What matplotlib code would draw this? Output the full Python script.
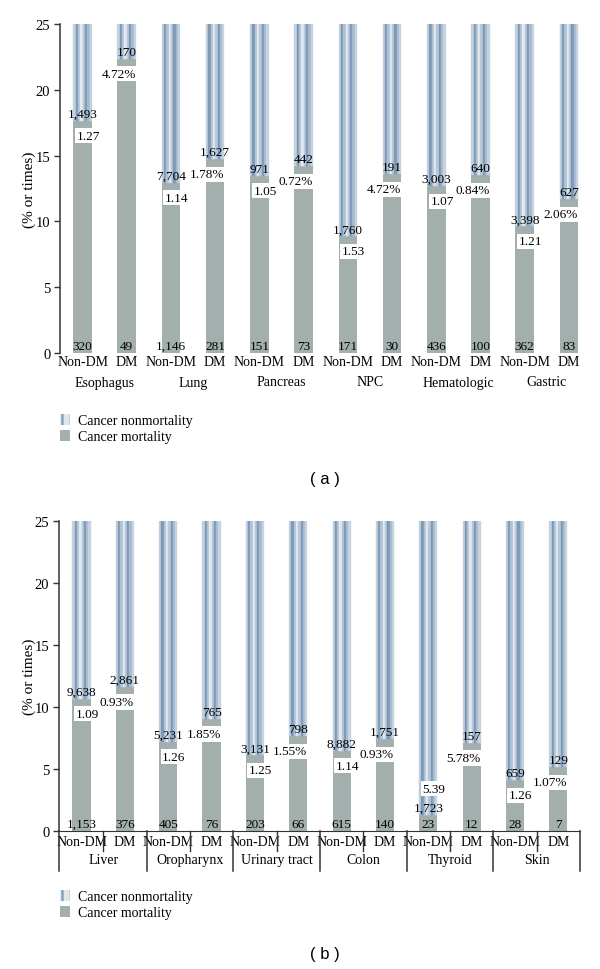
import matplotlib

matplotlib.use("Agg")
import matplotlib.pyplot as plt
import matplotlib.transforms as mtransforms
import numpy as np
from matplotlib.patches import Patch

plt.rcParams["font.family"] = ["Liberation Serif", "DejaVu Serif"]
plt.rcParams["hatch.color"] = "#7f9bb7"
plt.rcParams["hatch.linewidth"] = 1.6

# ---- data (a) ----
groups_a = ["Esophagus", "Lung", "Pancreas", "NPC", "Hematologic", "Gastric"]
nonmort_a = [1493, 170, 7704, 1627, 971, 442, 1760, 191, 3003, 640, 3398, 627]
mort_a = [320, 49, 1146, 281, 151, 73, 171, 30, 436, 100, 362, 83]
ratio_a = ["1.27", "1.14", "1.05", "1.53", "1.07", "1.21"]
pct_a = ["4.72%", "1.78%", "0.72%", "4.72%", "0.84%", "2.06%"]

# ---- data (b) ----
groups_b = ["Liver", "Oropharynx", "Urinary tract", "Colon", "Thyroid", "Skin"]
nonmort_b = [9638, 2861, 5231, 765, 3131, 798, 8882, 1751, 1723, 157, 659, 129]
mort_b = [1153, 376, 405, 76, 203, 66, 615, 140, 23, 12, 28, 7]
ratio_b = ["1.09", "1.26", "1.25", "1.14", "5.39", "1.26"]
pct_b = ["0.93%", "1.85%", "1.55%", "0.93%", "5.78%", "1.07%"]

bar_labels = ["Non-DM", "DM"] * 6

GRAY = "#a2afad"
STRIPES = ["#c3d1df", "#7d99b5", "#afc2d4", "#e2e9f1", "#b9c9da", "#7d99b5", "#a6bacf", "#c6d3e1"]
W = 0.42
PX = 0.72  # points per pixel at 100 dpi
FS = 9.5   # numbers
FC = 10    # category labels
box = dict(boxstyle="square,pad=0.12", fc="white", ec="none")


def draw_panel(ax, groups, nonmort, mort, ratios, pcts, table):
    x = np.arange(len(nonmort))
    nonmort = np.array(nonmort)
    mort = np.array(mort)
    rate = mort / (mort + nonmort) * 100

    ax.bar(x, rate, width=W, color=GRAY, linewidth=0, zorder=2)
    sw = W / len(STRIPES)
    for k, c in enumerate(STRIPES):
        ax.bar(x - W / 2 + (k + 0.5) * sw, 100 - rate, width=sw, bottom=rate,
               color=c, edgecolor=c, linewidth=0.3, zorder=2)

    for i in range(len(x)):
        ax.annotate(f"{nonmort[i]:,}", xy=(x[i], rate[i]), xytext=(0, 7 * PX),
                    textcoords="offset points", ha="center", va="center",
                    fontsize=FS, zorder=6)
        ax.annotate(f"{mort[i]:,}", xy=(x[i], 0), xytext=(0, 7 * PX),
                    textcoords="offset points", ha="center", va="center",
                    fontsize=FS, zorder=6)

    for g in range(len(groups)):
        i0, i1 = 2 * g, 2 * g + 1
        dy = -15 * PX if rate[i0] > 3 else 26 * PX
        ax.annotate(ratios[g], xy=(x[i0] + 0.13, rate[i0]), xytext=(0, dy),
                    textcoords="offset points", ha="center", va="center",
                    fontsize=FS, bbox=box, zorder=5)
        ax.annotate(pcts[g], xy=(x[i1] + W / 2, rate[i1]), xytext=(0, -15 * PX),
                    textcoords="offset points", ha="right", va="center",
                    fontsize=FS, bbox=box, zorder=5)
        ax.annotate(groups[g], xy=((x[i0] + x[i1]) / 2, 0),
                    xycoords=("data", "axes fraction"), xytext=(0, -29 * PX),
                    textcoords="offset points", ha="center", va="center",
                    fontsize=FC)

    ax.set_ylim(0, 25)
    ax.set_yticks([0, 5, 10, 15, 20, 25])
    ax.set_xticks(x)
    ax.set_xticklabels(bar_labels, fontsize=FC)
    ax.tick_params(axis="x", length=0, pad=3 if table else 1.5)
    ax.tick_params(axis="y", length=4, width=1, color="#333333", labelsize=10.5, pad=3)
    for s in ["top", "right"]:
        ax.spines[s].set_visible(False)
    ax.spines["left"].set_color("#333333")
    ax.spines["left"].set_linewidth(1.1)
    ax.spines["bottom"].set_visible(table)
    ax.spines["bottom"].set_color("#333333")

    if table:
        fig_h = ax.figure.get_figheight() * ax.figure.dpi
        ax_h = ax.get_position().height * fig_h
        tr = mtransforms.blended_transform_factory(ax.transData, ax.transAxes)
        lo, hi = ax.get_xlim()
        short, long_ = -20 / ax_h, -40 / ax_h
        for g in range(len(groups)):
            xm = x[2 * g] + 0.5
            ax.plot([xm, xm], [0, short], transform=tr, color="#333333", lw=1, clip_on=False)
        edges = [lo] + [x[2 * g + 1] + 0.5 for g in range(len(groups) - 1)] + [hi]
        for xe in edges:
            ax.plot([xe, xe], [0, long_], transform=tr, color="#333333", lw=1.1, clip_on=False)


fig = plt.figure(figsize=(6, 9.7), dpi=100)
H = 970.0
ax1 = fig.add_axes([60 / 600, 1 - 354 / H, (591 - 60) / 600, 329 / H])
ax1.set_xlim(-0.51, 11.5)
ax2 = fig.add_axes([59 / 600, 1 - 832 / H, (580 - 59) / 600, 310 / H])
ax2.set_xlim(-0.52, 11.5)

draw_panel(ax1, groups_a, nonmort_a, mort_a, ratio_a, pct_a, table=False)
draw_panel(ax2, groups_b, nonmort_b, mort_b, ratio_b, pct_b, table=True)

fig.text(29 / 600, 1 - 189.5 / H, "(% or times)", rotation=90, ha="center", va="center", fontsize=11)
fig.text(29 / 600, 1 - 677 / H, "(% or times)", rotation=90, ha="center", va="center", fontsize=11)

handles = [Patch(facecolor="#dfe7ef", edgecolor="#7f9bb7", hatch="||", linewidth=0),
           Patch(facecolor=GRAY, edgecolor=GRAY, linewidth=0)]
labels = ["Cancer nonmortality", "Cancer mortality"]
for ytop in (415, 891):
    fig.legend(handles, labels, loc="upper left", bbox_to_anchor=(60 / 600, 1 - ytop / H),
               frameon=False, fontsize=FC, handlelength=0.7, handleheight=0.8,
               handletextpad=0.6, labelspacing=0.2, borderpad=0, borderaxespad=0)

fig.text(325 / 600, 1 - 480 / H, "( a )", ha="center", va="center", fontsize=12, family="Liberation Sans")
fig.text(325 / 600, 1 - 955 / H, "( b )", ha="center", va="center", fontsize=12, family="Liberation Sans")

fig.savefig("out.png", dpi=100)
